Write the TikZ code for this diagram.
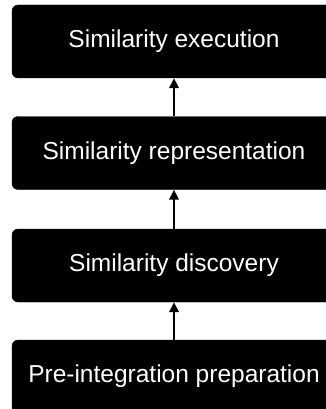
\documentclass[tikz,border=0pt]{standalone}
\usepackage{fontspec}
\setmainfont{Liberation Sans}
\usetikzlibrary{arrows.meta}
\begin{document}
\begin{tikzpicture}[x=1pt,y=1pt,
  stage/.style={rectangle, rounded corners=6pt, fill=black, draw=black,
    text=white, minimum width=324pt, minimum height=73pt, inner sep=0pt,
    font=\fontsize{24.5pt}{28pt}\selectfont},
  uparrow/.style={-{Triangle[width=9.5pt,length=10pt]}, line width=1.7pt, black}]
  \useasboundingbox (0,0) rectangle (326,-409);
  \clip (0,0) rectangle (326,-409);
  \node[stage] (exec) at (174,-41.5) {Similarity execution};
  \node[stage] (repr) at (174,-153) {Similarity representation};
  \node[stage] (disc) at (174,-265.5) {Similarity discovery};
  \node[stage] (prep) at (174,-376.5) {Pre-integration preparation};
  \draw[uparrow] (prep.north) -- (disc.south);
  \draw[uparrow] (disc.north) -- (repr.south);
  \draw[uparrow] (repr.north) -- (exec.south);
\end{tikzpicture}
\end{document}
